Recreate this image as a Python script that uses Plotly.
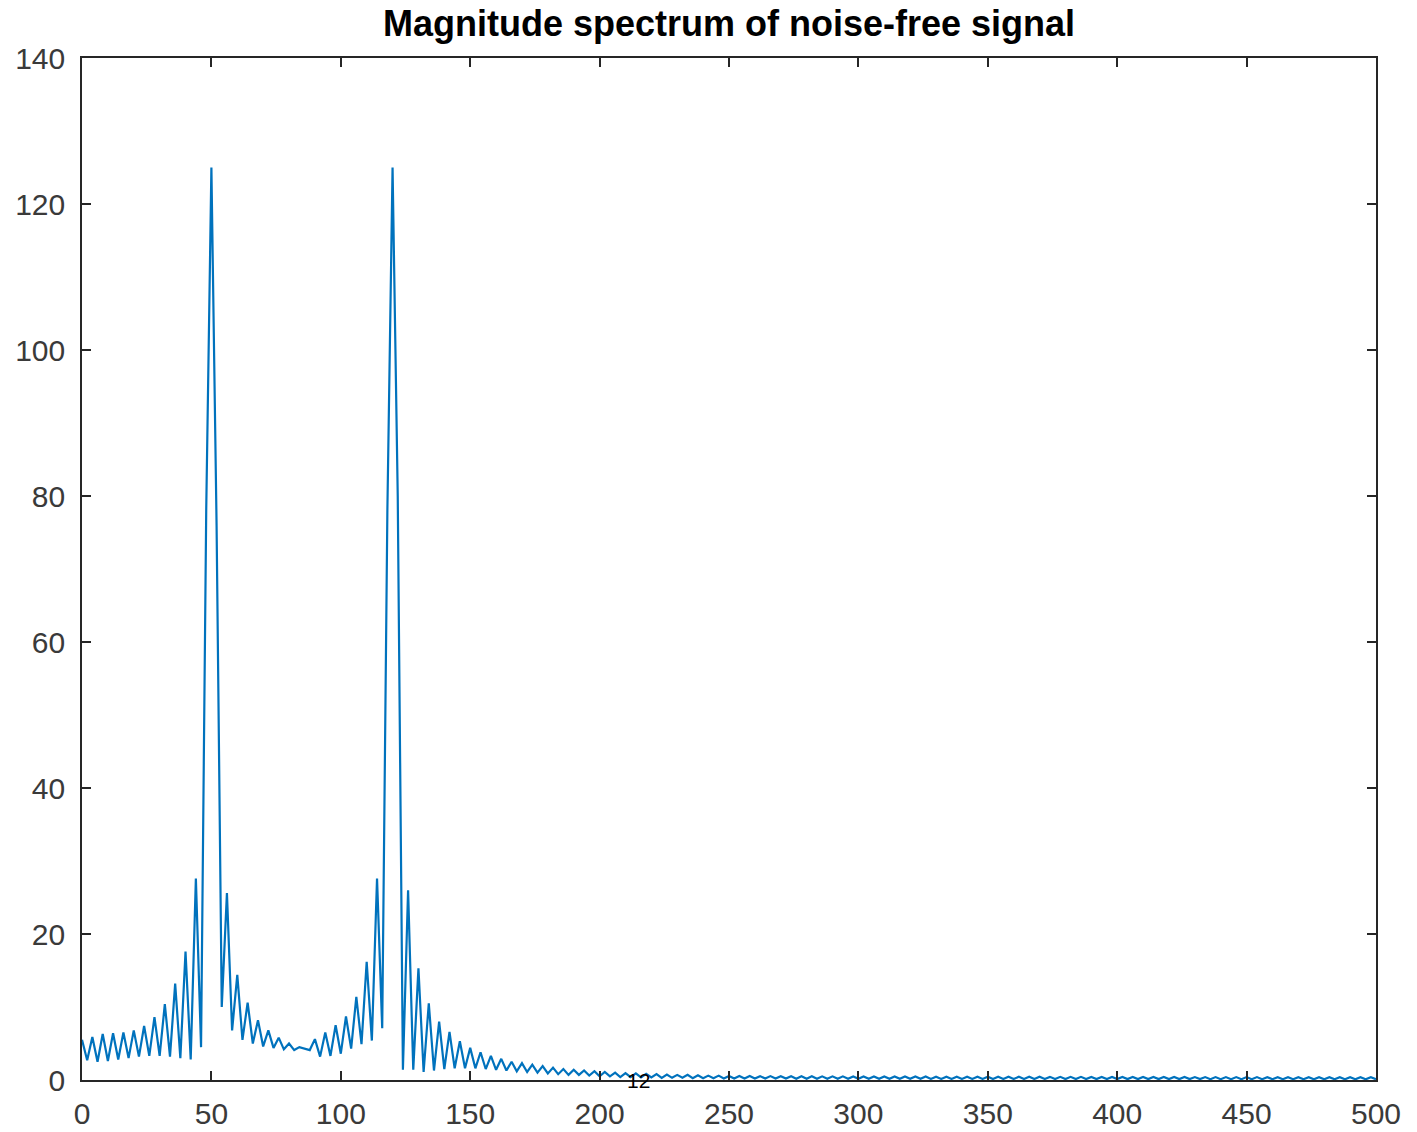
import plotly.graph_objects as go

# Frequency grid (Hz)
freq = [
    0, 2, 4, 6, 8, 10, 12, 14, 16, 18,
    20, 22, 24, 26, 28, 30, 32, 34, 36, 38,
    40, 42, 44, 46, 48, 50, 52, 54, 56, 58,
    60, 62, 64, 66, 68, 70, 72, 74, 76, 78,
    80, 82, 84, 86, 88, 90, 92, 94, 96, 98,
    100, 102, 104, 106, 108, 110, 112, 114, 116, 118,
    120, 122, 124, 126, 128, 130, 132, 134, 136, 138,
    140, 142, 144, 146, 148, 150, 152, 154, 156, 158,
    160, 162, 164, 166, 168, 170, 172, 174, 176, 178,
    180, 182, 184, 186, 188, 190, 192, 194, 196, 198,
    200, 202, 204, 206, 208, 210, 212, 214, 216, 218,
    220, 222, 224, 226, 228, 230, 232, 234, 236, 238,
    240, 242, 244, 246, 248, 250, 252, 254, 256, 258,
    260, 262, 264, 266, 268, 270, 272, 274, 276, 278,
    280, 282, 284, 286, 288, 290, 292, 294, 296, 298,
    300, 302, 304, 306, 308, 310, 312, 314, 316, 318,
    320, 322, 324, 326, 328, 330, 332, 334, 336, 338,
    340, 342, 344, 346, 348, 350, 352, 354, 356, 358,
    360, 362, 364, 366, 368, 370, 372, 374, 376, 378,
    380, 382, 384, 386, 388, 390, 392, 394, 396, 398,
    400, 402, 404, 406, 408, 410, 412, 414, 416, 418,
    420, 422, 424, 426, 428, 430, 432, 434, 436, 438,
    440, 442, 444, 446, 448, 450, 452, 454, 456, 458,
    460, 462, 464, 466, 468, 470, 472, 474, 476, 478,
    480, 482, 484, 486, 488, 490, 492, 494, 496, 498,
    500,
]

# Magnitude values read (estimated) from the picture
magnitude = [
    5.5, 2.7, 5.9, 2.5, 6.3, 2.6, 6.4, 2.8, 6.5, 3.0,
    6.8, 3.2, 7.4, 3.3, 8.6, 3.3, 10.4, 3.2, 13.2, 3.0,
    17.6, 2.8, 27.6, 4.5, 78, 125, 76, 10.0, 25.6, 6.8,
    14.4, 5.5, 10.6, 5.0, 8.2, 4.6, 6.8, 4.4, 5.8, 4.2,
    5.0, 4.1, 4.5, 4.3, 4.1, 5.6, 3.2, 6.5, 3.3, 7.5,
    3.6, 8.7, 4.3, 11.4, 4.9, 16.2, 5.4, 27.6, 7.1, 78,
    125, 80, 1.4, 26.0, 1.4, 15.3, 1.1, 10.5, 1.3, 8.0,
    1.5, 6.6, 1.6, 5.3, 1.6, 4.4, 1.6, 3.8, 1.5, 3.3,
    1.4, 2.9, 1.3, 2.5, 1.2, 2.3, 1.1, 2.1, 1.0, 1.9,
    0.9, 1.7, 0.8, 1.5, 0.7, 1.4, 0.7, 1.3, 0.6, 1.2,
    0.5, 1.1, 0.5, 1.0, 0.4, 0.95, 0.4, 0.9, 0.35, 0.85,
    0.35, 0.8, 0.3, 0.75, 0.3, 0.7, 0.3, 0.7, 0.25, 0.65,
    0.25, 0.6, 0.25, 0.6, 0.2, 0.55, 0.2, 0.55, 0.2, 0.54,
    0.2, 0.53, 0.19, 0.53, 0.19, 0.52, 0.19, 0.52, 0.18, 0.51,
    0.18, 0.51, 0.18, 0.5, 0.18, 0.5, 0.17, 0.5, 0.17, 0.49,
    0.17, 0.49, 0.17, 0.48, 0.16, 0.48, 0.16, 0.48, 0.16, 0.47,
    0.16, 0.47, 0.16, 0.47, 0.15, 0.46, 0.15, 0.46, 0.15, 0.46,
    0.15, 0.45, 0.15, 0.45, 0.15, 0.45, 0.14, 0.45, 0.14, 0.44,
    0.14, 0.44, 0.14, 0.44, 0.14, 0.44, 0.14, 0.43, 0.13, 0.43,
    0.13, 0.43, 0.13, 0.43, 0.13, 0.42, 0.13, 0.42, 0.13, 0.42,
    0.13, 0.42, 0.12, 0.42, 0.12, 0.41, 0.12, 0.41, 0.12, 0.41,
    0.12, 0.41, 0.12, 0.41, 0.12, 0.4, 0.12, 0.4, 0.11, 0.4,
    0.11, 0.4, 0.11, 0.4, 0.11, 0.4, 0.11, 0.4, 0.11, 0.39,
    0.11, 0.39, 0.11, 0.39, 0.11, 0.39, 0.11, 0.39, 0.1, 0.39,
    0.1, 0.39, 0.1, 0.39, 0.1, 0.39, 0.1, 0.38, 0.1, 0.38,
    0.1,
]
assert len(freq) == len(magnitude)

x_ticks = [0, 50, 100, 150, 200, 250, 300, 350, 400, 450, 500]
y_ticks = [0, 20, 40, 60, 80, 100, 120, 140]

title_text = "Magnitude spectrum of noise-free signal"
note_text = "12"
note_x = 215
note_y = 0

AX = "#262626"
FONT = "Liberation Sans, Arial, Helvetica, sans-serif"

fig = go.Figure()
fig.add_trace(go.Scatter(
    x=freq, y=magnitude, mode="lines",
    line=dict(color="#0072BD", width=2.2),
    showlegend=False, hoverinfo="skip",
))

fig.add_annotation(
    x=note_x, y=note_y, xref="x", yref="y", text=note_text,
    showarrow=False, xanchor="center", yanchor="middle", yshift=0,
    font=dict(family=FONT, size=21, color="#000000"),
)

axis_common = dict(
    showline=True, linecolor=AX, linewidth=1.6, mirror="ticks",
    ticks="inside", ticklen=9, tickwidth=1.6, tickcolor=AX,
    showgrid=False, zeroline=False, automargin=False,
    tickfont=dict(family=FONT, size=30, color="#3a3a3a"),
)

fig.update_layout(
    width=1417, height=1132,
    margin=dict(l=82, r=41, t=58, b=52, autoexpand=False),
    plot_bgcolor="white", paper_bgcolor="white",
    title=dict(
        text="<b>" + title_text + "</b>",
        x=0.5145, xanchor="center",
        y=1 - 23 / 1132, yref="container", yanchor="middle",
        font=dict(family=FONT, size=36, color="#000000"),
    ),
    xaxis=dict(range=[0, 500], tickvals=x_ticks, ticklabelstandoff=6, **axis_common),
    yaxis=dict(range=[0, 140], tickvals=y_ticks, ticklabelstandoff=9, **axis_common),
)

fig.write_html("out.html")
